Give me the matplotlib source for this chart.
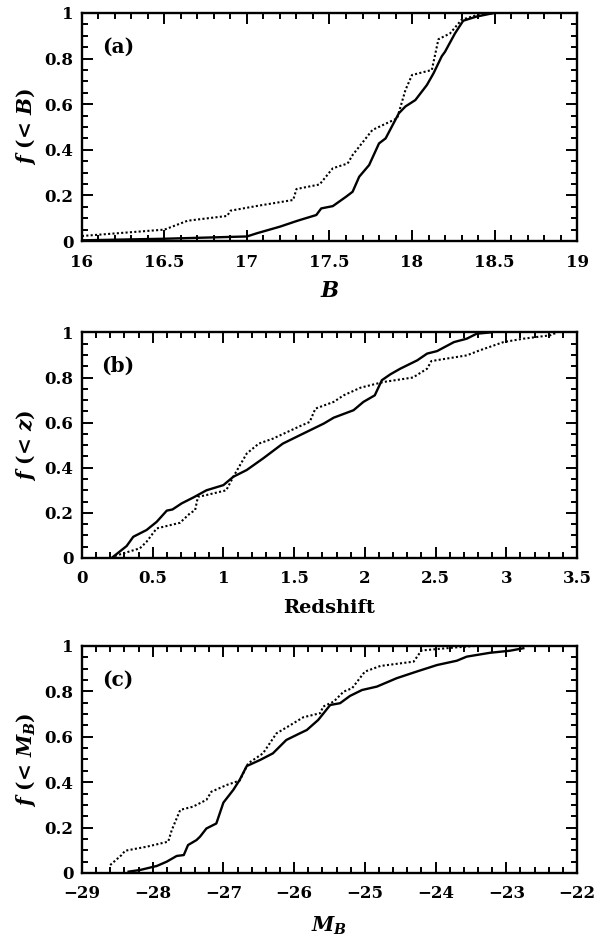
import numpy as np
import matplotlib
matplotlib.use("Agg")
import matplotlib.pyplot as plt
from matplotlib.ticker import MultipleLocator

plt.rcParams["font.family"] = "DejaVu Serif"
plt.rcParams["font.weight"] = "bold"
plt.rcParams["mathtext.fontset"] = "custom"
plt.rcParams["mathtext.rm"] = "DejaVu Serif:bold"
plt.rcParams["mathtext.it"] = "DejaVu Serif:bold:italic"
plt.rcParams["mathtext.bf"] = "DejaVu Serif:bold"

# panel (a): apparent magnitude B
a_solid_x = [16.0, 16.5, 17.0, 17.06, 17.2, 17.29, 17.32, 17.42, 17.45, 17.52, 17.6, 17.64, 17.68,
             17.74, 17.8, 17.84, 17.92, 17.96, 18.02, 18.09, 18.13, 18.18, 18.2, 18.26, 18.31,
             18.39, 18.47, 18.5]
a_solid_y = [0.003, 0.01, 0.02, 0.034, 0.063, 0.085, 0.092, 0.114, 0.143, 0.153, 0.194, 0.216, 0.282,
             0.333, 0.428, 0.45, 0.56, 0.59, 0.618, 0.684, 0.735, 0.81, 0.83, 0.91, 0.966,
             0.984, 0.996, 1.0]
a_dot_x = [16.0, 16.5, 16.64, 16.88, 16.9, 17.07, 17.28, 17.30, 17.44, 17.52, 17.61, 17.64, 17.76,
           17.91, 17.96, 18.0, 18.12, 18.16, 18.23, 18.30, 18.39, 18.49]
a_dot_y = [0.022, 0.05, 0.089, 0.11, 0.133, 0.155, 0.18, 0.228, 0.248, 0.319, 0.34, 0.377, 0.487,
           0.538, 0.662, 0.728, 0.75, 0.885, 0.91, 0.97, 0.99, 1.0]

# panel (b): redshift
b_solid_x = [0.21, 0.316, 0.363, 0.457, 0.528, 0.6, 0.64, 0.705, 0.787, 0.88, 1.0, 1.07, 1.165,
             1.28, 1.42, 1.54, 1.71, 1.78, 1.92, 1.99, 2.07, 2.12, 2.18, 2.25, 2.37, 2.44,
             2.51, 2.63, 2.72, 2.79, 2.89]
b_solid_y = [0.0, 0.053, 0.094, 0.124, 0.16, 0.21, 0.215, 0.242, 0.268, 0.30, 0.323, 0.36, 0.39,
             0.441, 0.507, 0.544, 0.596, 0.622, 0.655, 0.692, 0.721, 0.788, 0.814, 0.839, 0.876, 0.906,
             0.917, 0.957, 0.972, 0.994, 1.0]
b_dot_x = [0.233, 0.29, 0.41, 0.457, 0.528, 0.693, 0.764, 0.8, 0.82, 0.88, 1.02, 1.07, 1.165,
           1.25, 1.35, 1.54, 1.61, 1.65, 1.78, 1.85, 1.97, 2.13, 2.34, 2.44, 2.47, 2.72,
           2.81, 2.98, 3.12, 3.31, 3.36]
b_dot_y = [0.009, 0.02, 0.043, 0.072, 0.131, 0.156, 0.198, 0.212, 0.271, 0.279, 0.30, 0.36, 0.463,
           0.507, 0.529, 0.584, 0.603, 0.662, 0.692, 0.721, 0.755, 0.78, 0.80, 0.839, 0.873, 0.898,
           0.92, 0.957, 0.972, 0.987, 1.0]

# panel (c): absolute magnitude M_B
c_solid_x = [-28.34, -28.18, -27.94, -27.80, -27.66, -27.56, -27.50, -27.38, -27.33, -27.24, -27.10,
             -27.0, -26.86, -26.77, -26.67, -26.48, -26.30, -26.11, -25.92, -25.82, -25.66, -25.49,
             -25.35, -25.21, -25.04, -24.83, -24.55, -24.27, -23.98, -23.70, -23.56, -23.23,
             -22.95, -22.76]
c_solid_y = [0.006, 0.013, 0.031, 0.05, 0.075, 0.079, 0.123, 0.145, 0.16, 0.196, 0.218,
             0.31, 0.366, 0.41, 0.471, 0.498, 0.527, 0.586, 0.615, 0.63, 0.674, 0.74,
             0.748, 0.78, 0.806, 0.821, 0.858, 0.887, 0.916, 0.935, 0.953, 0.97,
             0.979, 0.99]
c_dot_x = [-28.60, -28.44, -28.39, -28.08, -27.78, -27.73, -27.61, -27.43, -27.24, -27.17, -26.95,
           -26.77, -26.65, -26.44, -26.25, -26.06, -25.87, -25.63, -25.59, -25.44, -25.30, -25.18,
           -25.0, -24.78, -24.31, -24.20, -24.03, -23.70, -23.45]
c_dot_y = [0.035, 0.079, 0.098, 0.116, 0.138, 0.189, 0.278, 0.292, 0.322, 0.358, 0.388,
           0.407, 0.483, 0.527, 0.615, 0.65, 0.686, 0.704, 0.733, 0.755, 0.799, 0.814,
           0.887, 0.912, 0.931, 0.98, 0.985, 0.994, 1.0]

panels = [
    dict(sx=a_solid_x, sy=a_solid_y, dx=a_dot_x, dy=a_dot_y, xlim=(16, 19), major=0.5, minor=0.1,
         xlabel=r"$B$", ylabel=r"$f$ (< $B$)", tag="(a)", ticks=[16, 16.5, 17, 17.5, 18, 18.5, 19],
         ticklabels=["16", "16.5", "17", "17.5", "18", "18.5", "19"], xlsize=15.5, xlpad=7),
    dict(sx=b_solid_x, sy=b_solid_y, dx=b_dot_x, dy=b_dot_y, xlim=(0, 3.5), major=0.5, minor=0.1,
         xlabel="Redshift", ylabel=r"$f$ (< $z$)", tag="(b)", ticks=[0, 0.5, 1, 1.5, 2, 2.5, 3, 3.5],
         ticklabels=["0", "0.5", "1", "1.5", "2", "2.5", "3", "3.5"], xlsize=14, xlpad=8),
    dict(sx=c_solid_x, sy=c_solid_y, dx=c_dot_x, dy=c_dot_y, xlim=(-29, -22), major=1, minor=0.2,
         xlabel=r"$M_B$", ylabel=r"$f$ (< $M_B$)", tag="(c)", ticks=[-29, -28, -27, -26, -25, -24, -23, -22],
         ticklabels=["\u221229", "\u221228", "\u221227", "\u221226", "\u221225", "\u221224", "\u221223", "\u221222"],
         xlsize=14.5, xlpad=9),
]

fig = plt.figure(figsize=(5.98, 9.40), dpi=100)
bottoms = [0.7436, 0.4064, 0.0713]
heights = [0.2426, 0.240, 0.2415]

for p, b, h in zip(panels, bottoms, heights):
    ax = fig.add_axes([0.137, b, 0.828, h])
    ax.plot(p["sx"], p["sy"], color="black", lw=1.7, solid_joinstyle="round")
    ax.plot(p["dx"], p["dy"], color="black", lw=1.5, ls=(0, (1, 1.1)))
    ax.set_xlim(*p["xlim"])
    ax.set_ylim(0, 1)
    ax.xaxis.set_major_locator(MultipleLocator(p["major"]))
    ax.xaxis.set_minor_locator(MultipleLocator(p["minor"]))
    ax.yaxis.set_major_locator(MultipleLocator(0.2))
    ax.yaxis.set_minor_locator(MultipleLocator(0.05))
    ax.set_xticks(p["ticks"])
    ax.set_xticklabels(p["ticklabels"])
    ax.set_yticks([0, 0.2, 0.4, 0.6, 0.8, 1])
    ax.set_yticklabels(["0", "0.2", "0.4", "0.6", "0.8", "1"])
    ax.tick_params(which="both", direction="in", top=True, right=True, width=1.4,
                   labelsize=12, colors="black")
    ax.tick_params(which="major", length=8)
    ax.tick_params(which="minor", length=4)
    ax.tick_params(axis="x", which="major", pad=9)
    ax.tick_params(axis="y", which="major", pad=6)
    for s in ax.spines.values():
        s.set_linewidth(1.7)
    for lab in ax.get_xticklabels() + ax.get_yticklabels():
        lab.set_fontweight("bold")
    ax.set_xlabel(p["xlabel"], fontsize=p["xlsize"], fontweight="bold", labelpad=p["xlpad"])
    ax.set_ylabel(p["ylabel"], fontsize=14.5, fontweight="bold", labelpad=5)
    ax.text(0.073, 0.85, p["tag"], transform=ax.transAxes, ha="center", va="center",
            fontsize=14.5, fontweight="bold")

fig.savefig("out.png", dpi=100)
